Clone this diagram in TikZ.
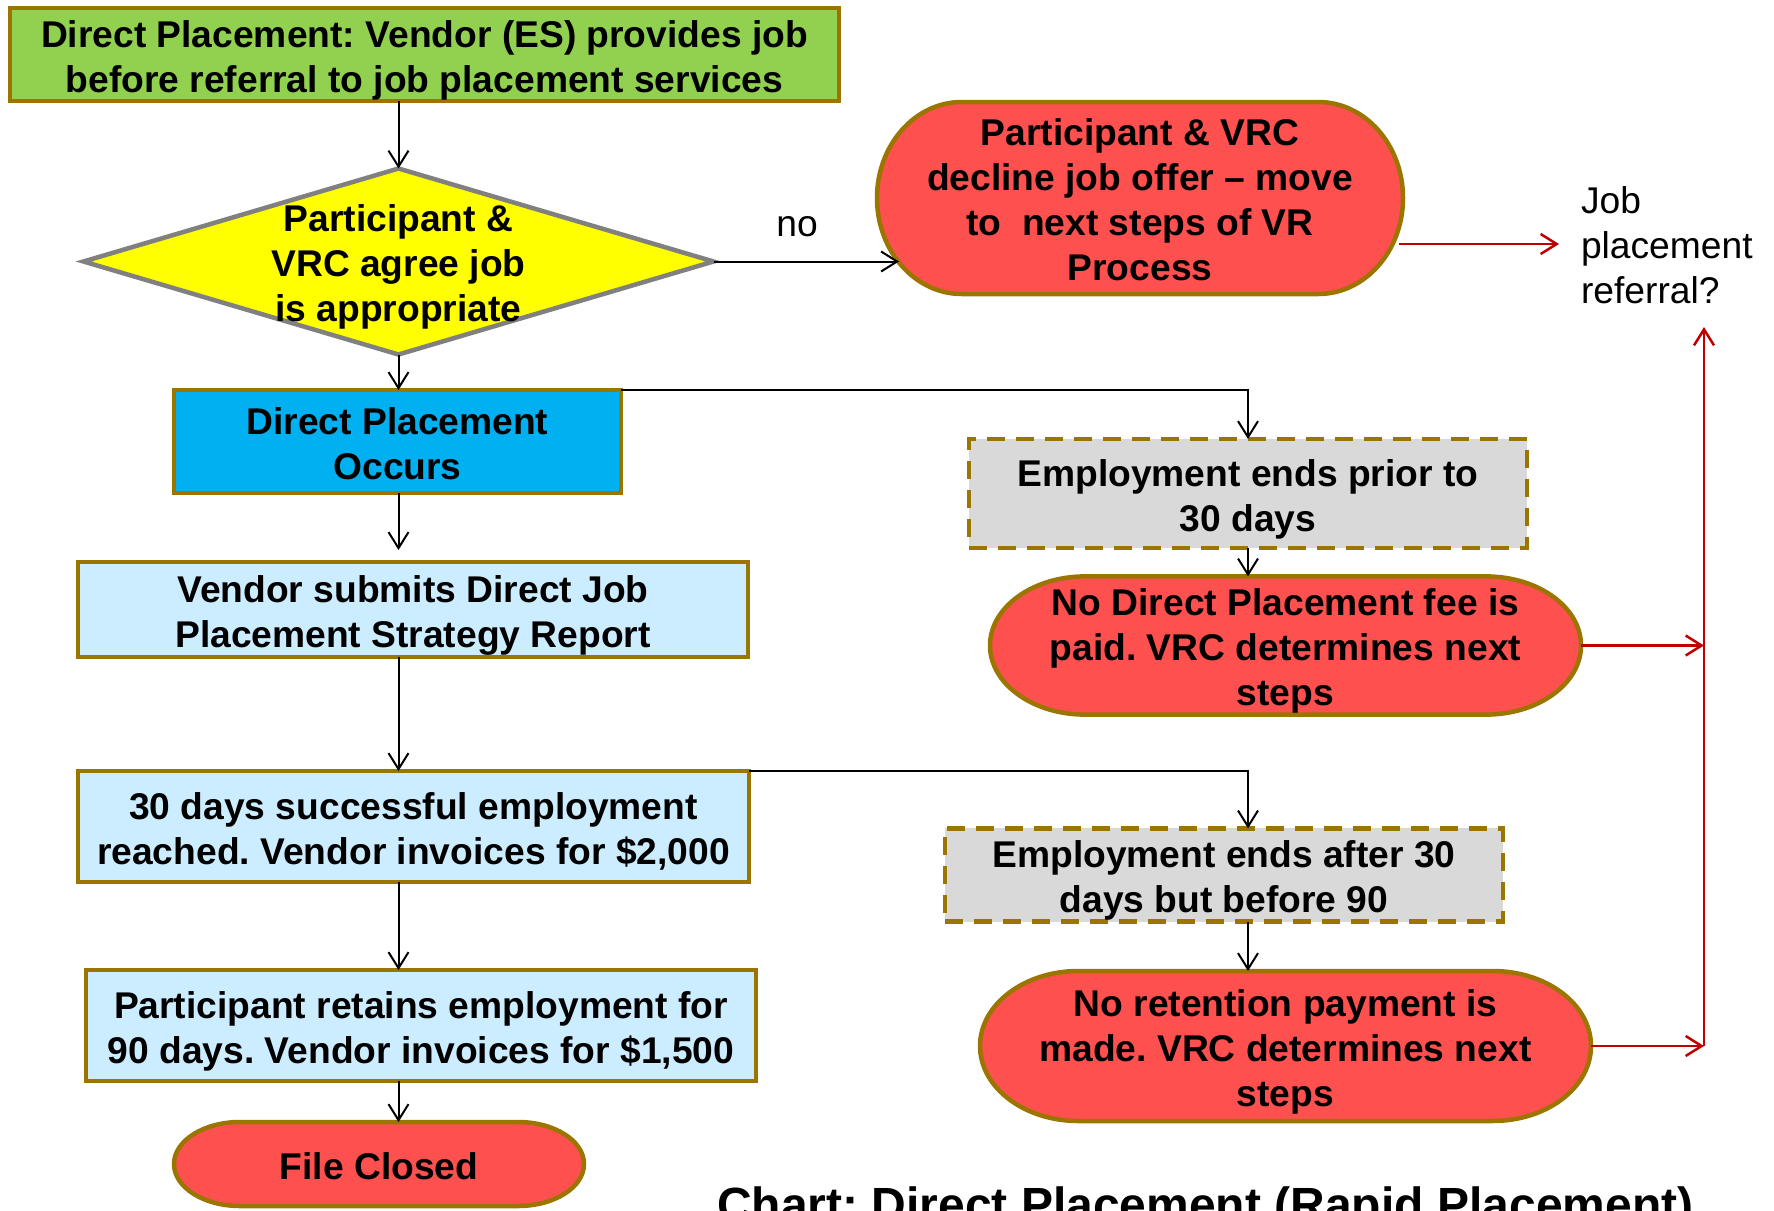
\documentclass[tikz,border=0pt]{standalone}
\usepackage{fontspec}
\setmainfont{Liberation Sans}
\frenchspacing
\usetikzlibrary{arrows.meta,backgrounds,calc}
\definecolor{bord}{RGB}{156,116,0}
\definecolor{grn}{RGB}{146,208,80}
\definecolor{yel}{RGB}{255,255,0}
\definecolor{dgray}{RGB}{128,128,128}
\definecolor{cyanb}{RGB}{0,176,240}
\definecolor{lblue}{RGB}{204,236,255}
\definecolor{lgray}{RGB}{217,217,217}
\definecolor{redf}{RGB}{255,80,80}
\definecolor{redl}{RGB}{192,0,0}
\newcommand\mytop{\rule{0pt}{39.2pt}}
\newcommand\mybot{\rule[-9pt]{0pt}{9pt}}
\tikzset{
  txt/.style={font=\fontsize{37.2}{45}\selectfont\bfseries, align=center, inner sep=0pt, outer sep=0pt, rectangle},
  box/.style={txt, draw=bord, line width=4.5pt},
  dashbox/.style={box, fill=lgray, dash pattern=on 18pt off 11pt},
  plaintxt/.style={font=\fontsize{37.2}{45}\selectfont, inner sep=0pt, outer sep=0pt},
  conn/.style={draw=black, line width=2pt, -{Straight Barb[length=16pt,width=20pt]}},
  redconn/.style={draw=redl, line width=2.5pt, -{Straight Barb[length=16pt,width=20pt]}},
  termfill/.style={fill=redf, draw=bord, line width=4.5pt},
  diafill/.style={fill=yel, draw=dgray, line width=4.5pt, line join=miter},
}
\newcommand\termpath[1]{%
  \path[termfill] let \p1=(#1.south west), \p2=(#1.north east),
    \n1={0.161*(\x2-\x1)}, \n2={(\y2-\y1)/2} in
    (\x1+\n1,\y1) -- (\x2-\n1,\y1)
    arc[start angle=-90, end angle=90, x radius=\n1, y radius=\n2]
    -- (\x1+\n1,\y2)
    arc[start angle=90, end angle=270, x radius=\n1, y radius=\n2] -- cycle;}
\begin{document}
\begin{tikzpicture}[x=1pt, y=-1pt]
\useasboundingbox (0,0) rectangle (1774,1210);
\clip (0,0) rectangle (1774,1210);

% left column
\node[box, fill=grn, minimum width=829pt, minimum height=93pt] (top) at (424.5,54.5)
  {\mytop Direct Placement: Vendor (ES) provides job\\before referral to job placement services\mybot};
\node[txt, minimum width=630pt, minimum height=186pt] (dia) at (398.5,261.5)
  {\mytop Participant \&\\VRC agree job\\is appropriate\mybot};
\node[box, fill=cyanb, minimum width=447pt, minimum height=103pt] (blue) at (397.5,441.5)
  {\mytop Direct Placement\\Occurs\mybot};
\node[box, fill=lblue, minimum width=670pt, minimum height=95pt] (vend) at (413,609.5)
  {\mytop Vendor submits Direct Job\\Placement Strategy Report\mybot};
\node[box, fill=lblue, minimum width=671pt, minimum height=111pt] (d30) at (413.5,826.5)
  {\mytop 30 days successful employment\\reached. Vendor invoices for \$2,000\mybot};
\node[box, fill=lblue, minimum width=670pt, minimum height=111pt] (ret) at (421,1025.5)
  {\mytop Participant retains employment for\\90 days. Vendor invoices for \$1,500\mybot};
\node[txt, minimum width=410pt, minimum height=84pt] (fc) at (379,1164) {\mytop File Closed\mybot};

% right column
\node[txt, minimum width=526pt, minimum height=192pt] (decl) at (1140,198)
  {\mytop Participant \& VRC\\decline job offer – move\\to\ \ next steps of VR\\Process\mybot};
\node[dashbox, minimum width=558pt, minimum height=109pt] (g1) at (1248,493.5)
  {\mytop Employment ends prior to\\30 days\mybot};
\node[txt, minimum width=591pt, minimum height=131pt] (s2) at (1285.5,645.5)
  {\mytop No Direct Placement fee is\\paid. VRC determines next\\steps\mybot};
\node[dashbox, minimum width=558pt, minimum height=92pt] (g2) at (1224,875)
  {\mytop Employment ends after 30\\days but before 90\mybot};
\node[txt, minimum width=611pt, minimum height=150pt] (s3) at (1285.5,1046)
  {\mytop No retention payment is\\made. VRC determines next\\steps\mybot};

% labels
\node[plaintxt] (lno) at (797,227) {no};
\node[plaintxt, align=left, anchor=north west] (jobref) at (1581,186.5)
  {Job\\placement\\referral?};
\node[font=\fontsize{48}{56}\selectfont\bfseries, inner sep=0pt, anchor=base west] (title)
  at (717,1221) {Chart: Direct Placement (Rapid Placement)};

% coordinates for free ends
\coordinate (declin) at (899,261.5);
\coordinate (declout) at (1399,244);
\coordinate (railtop) at (1704,327);
\coordinate (railbot) at (1704,1046);

% black connectors
\draw[conn] (dia.north |- top.south) -- (dia.north);
\draw[conn] (dia.east) -- (declin);
\draw[conn] (dia.south) -- (dia.south |- blue.north);
\draw[conn] (blue.north east) -| (g1.north);
\draw[conn] (g1.south) -- (g1.south |- s2.north);
\draw[conn, shorten >=12pt] (dia.south |- blue.south) -- (dia.south |- vend.north);
\draw[conn] (dia.south |- vend.south) -- (dia.south |- d30.north);
\draw[conn] (d30.north east) -| (g2.north -| g1.center);
\draw[conn] (g2.south -| g1.center) -- (s3.north -| g1.center);
\draw[conn] (dia.south |- d30.south) -- (dia.south |- ret.north);
\draw[conn] (dia.south |- ret.south) -- (dia.south |- fc.north);

% red connectors
\draw[redconn, shorten >=22pt] (declout) -- (declout -| jobref.west);
\draw[redconn] (railbot) -- (railtop);
\draw[redconn] (s2.east) -- (s2.east -| railtop);
\draw[redconn] (s3.east) -- (railbot);

\begin{pgfonlayer}{background}
  \path[diafill] (dia.west) -- (dia.north) -- (dia.east) -- (dia.south) -- cycle;
  \termpath{decl}
  \termpath{s2}
  \termpath{s3}
  \termpath{fc}
\end{pgfonlayer}
\end{tikzpicture}
\end{document}
